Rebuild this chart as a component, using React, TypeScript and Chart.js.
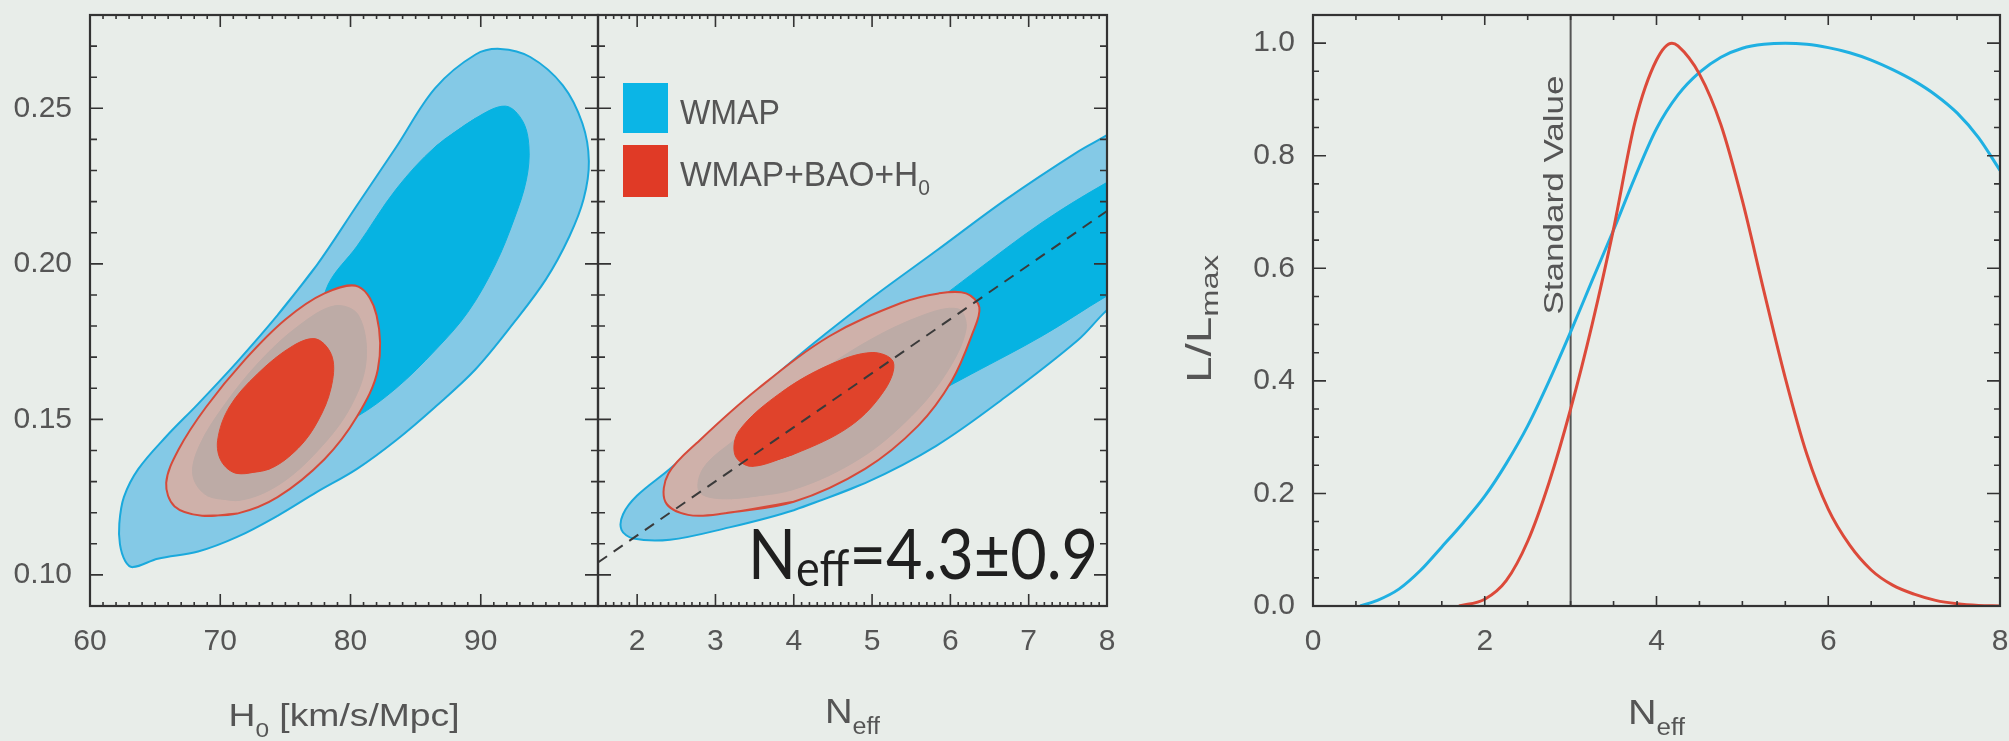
import React, { useEffect, useRef } from "react";
import { Chart, registerables } from "chart.js";
Chart.register(...registerables);

const FONT = "'Liberation Sans', Arial, Helvetica, sans-serif";
const BG = "#e8ede9";
const TXT = "#555555";
const FRAME = "#333333";
const BLUE_LIGHT = "#84c9e6";
const BLUE_DARK = "#06b3e2";
const BLUE_EDGE = "#1aa9dc";
const RED_OUTER = "#cfb1aa";
const RED_HALO = "#bdaba6";
const RED_CORE = "#e0432b";
const RED_EDGE = "#d64a3a";

// ---------------- tick labels ----------------
const h0TickValues = [60, 70, 80, 90];
const omegaTickValues = [0.1, 0.15, 0.2, 0.25];
const neffMidTickValues = [2, 3, 4, 5, 6, 7, 8];
const neffTickValues = [0, 2, 4, 6, 8];
const likeTickValues = [0, 0.2, 0.4, 0.6, 0.8, 1.0];

// ---------------- left panel contours (H0, y) — open loops ----------------
const wmapH0Outer: [number, number][] = [
  [74.4, 0.1835], [77.4, 0.1995], [80.45, 0.2185], [83.5, 0.2375], [86.5, 0.2565], [89.6, 0.2673],
  [91.5, 0.2691], [93.8, 0.2665], [96.3, 0.2574], [97.8, 0.2452], [98.3, 0.233], [97.9, 0.2209],
  [96.8, 0.2088], [95.0, 0.195], [92.6, 0.1814], [89.6, 0.1661], [86.5, 0.154], [83.5, 0.1433],
  [80.5, 0.1341], [77.4, 0.1266], [74.4, 0.119], [71.3, 0.1122], [68.3, 0.1075], [65.2, 0.1052],
  [63.3, 0.1025], [62.7, 0.1045], [62.3, 0.1098], [62.25, 0.1165], [62.6, 0.125], [63.7, 0.134],
  [65.85, 0.1445], [68.3, 0.155], [71.3, 0.1685],
];
const wmapH0Inner: [number, number][] = [
  [86.5, 0.2376], [89.6, 0.2468], [91.9, 0.2507], [93.2, 0.246], [93.7, 0.2376], [93.5, 0.227],
  [92.6, 0.2148], [91.1, 0.1996], [89.0, 0.1844], [86.5, 0.1722], [83.5, 0.16], [80.5, 0.1509],
  [78.6, 0.148], [77.0, 0.152], [76.5, 0.165], [77.5, 0.18], [78.3, 0.1935], [80.5, 0.2057],
  [83.5, 0.224],
];
const comboH0Outer: [number, number][] = [
  [71.3, 0.1197], [68.6, 0.119], [66.5, 0.122], [65.85, 0.1296], [66.8, 0.1403], [68.9, 0.1539],
  [71.9, 0.1692], [75.0, 0.1821], [78.0, 0.1905], [80.6, 0.1927], [82.0, 0.1835], [82.1, 0.1661],
  [80.5, 0.1509], [78.0, 0.1372], [74.4, 0.125],
];
const comboH0Halo: [number, number][] = [
  [71.5, 0.124], [69.0, 0.1255], [67.9, 0.132], [68.4, 0.1415], [70.3, 0.1545], [73.0, 0.1685],
  [76.0, 0.1800], [78.8, 0.1865], [80.6, 0.1835], [81.2, 0.1690], [80.0, 0.1540], [77.5, 0.1400],
  [74.5, 0.1290],
];
const comboH0Core: [number, number][] = [
  [73.8, 0.1341], [71.3, 0.1326], [70.1, 0.1364], [69.8, 0.1433], [70.7, 0.154], [72.85, 0.1646],
  [75.6, 0.1737], [77.4, 0.1758], [78.6, 0.1700], [78.5, 0.1600], [77.5, 0.1495], [76.0, 0.1408],
];

// ---------------- middle panel contours (Neff, y) ----------------
const wmapNeffOuter: [number, number][] = [
  [4.0, 0.1208], [4.91, 0.1295], [5.82, 0.1415], [6.72, 0.1575], [7.63, 0.1755], [7.97, 0.1844],
  [8.4, 0.194], [8.4, 0.248], [8.0, 0.2414], [7.63, 0.2361], [6.72, 0.2209], [5.82, 0.2042],
  [4.91, 0.1874], [4.0, 0.1692], [3.1, 0.1494], [2.42, 0.1341], [2.0, 0.1255], [1.82, 0.1195],
  [1.8, 0.1145], [1.95, 0.1117], [2.42, 0.1113], [3.1, 0.1148],
];
const wmapNeffInner: [number, number][] = [
  [8.4, 0.231], [8.0, 0.2262], [7.17, 0.2133], [6.27, 0.1966], [5.4, 0.18], [4.6, 0.166],
  [4.4, 0.155], [4.6, 0.143], [5.4, 0.153], [6.27, 0.1646], [7.17, 0.1768], [8.0, 0.1897],
  [8.4, 0.195],
];
const comboNeffOuter: [number, number][] = [
  [4.0, 0.1235], [3.1, 0.1197], [2.65, 0.1193], [2.36, 0.1235], [2.4, 0.1326], [2.8, 0.1433],
  [3.55, 0.16], [4.46, 0.1768], [5.37, 0.1874], [5.85, 0.1905], [6.2, 0.1905], [6.37, 0.186],
  [6.28, 0.1775], [6.02, 0.1625], [5.59, 0.148], [4.91, 0.1341],
];
const comboNeffHalo: [number, number][] = [
  [4.0, 0.1275], [3.2, 0.1245], [2.8, 0.1265], [2.85, 0.1345], [3.3, 0.1445], [4.0, 0.1590],
  [4.8, 0.1730], [5.6, 0.1830], [6.1, 0.1855], [6.2, 0.1790], [5.95, 0.1650], [5.5, 0.1510],
  [4.85, 0.1375],
];
const comboNeffCore: [number, number][] = [
  [4.0, 0.1388], [3.46, 0.1349], [3.25, 0.1385], [3.3, 0.1463], [3.83, 0.1585], [4.46, 0.1676],
  [5.0, 0.1715], [5.27, 0.1685], [5.17, 0.1598], [4.73, 0.148],
];
const degeneracyLine: [number, number][] = [[1.5, 0.104], [8, 0.217]];

// ---------------- right panel: 1D likelihoods ----------------
const wmapNeff = [0.55, 0.75, 1, 1.25, 1.5, 1.75, 2, 2.25, 2.5, 2.75, 3, 3.25, 3.5, 3.75, 4, 4.25, 4.5, 4.75, 5, 5.25, 5.5, 5.75, 6, 6.25, 6.5, 6.75, 7, 7.25, 7.5, 7.75, 8];
const wmapLike = [0, 0.01, 0.03, 0.063, 0.105, 0.148, 0.195, 0.253, 0.32, 0.4, 0.487, 0.578, 0.668, 0.762, 0.848, 0.908, 0.948, 0.975, 0.991, 0.998, 1.0, 0.998, 0.992, 0.983, 0.97, 0.953, 0.933, 0.908, 0.876, 0.832, 0.774];
const comboNeff = [1.7, 2, 2.25, 2.5, 2.75, 3, 3.25, 3.5, 3.75, 4, 4.18, 4.25, 4.5, 4.75, 5, 5.25, 5.5, 5.75, 6, 6.25, 6.5, 6.75, 7, 7.25, 7.5, 7.75, 8];
const comboLike = [0, 0.012, 0.045, 0.115, 0.22, 0.35, 0.5, 0.67, 0.86, 0.97, 1.0, 0.995, 0.945, 0.855, 0.72, 0.56, 0.405, 0.27, 0.172, 0.108, 0.064, 0.037, 0.021, 0.01, 0.004, 0.001, 0];
const standardNeff = 3.0;

// ---------------- helpers ----------------
const range = (a: number, b: number, s: number) => {
  const out: number[] = [];
  for (let v = a; v <= b + 1e-9; v += s) out.push(+v.toFixed(5));
  return out;
};

// close an open loop, wrapping one extra point so the spline is smooth at the seam
function loop(pts: [number, number][]) {
  const all = [...pts, pts[0], pts[1]];
  return all.map(([x, y]) => ({ x, y }));
}

function poly(pts: [number, number][], fillColor: string, edge: string, bw: number, order: number) {
  return {
    data: loop(pts),
    backgroundColor: fillColor,
    borderColor: edge,
    borderWidth: bw,
    fill: "shape",
    tension: 0.35,
    pointRadius: 0,
    order,
  };
}

type TextItem = {
  main: string; sub?: string; tail?: string;
  x: number; y: number; size: number; subSize?: number; subDrop?: number;
  width?: number; rot?: number; color?: string; family?: string; align?: "center" | "left";
};

function drawText(ctx: CanvasRenderingContext2D, t: TextItem) {
  const fam = t.family || FONT;
  const subSize = t.subSize || t.size * 0.65;
  ctx.save();
  ctx.translate(t.x, t.y);
  if (t.rot) ctx.rotate(t.rot);
  ctx.fillStyle = t.color || TXT;
  ctx.textBaseline = "alphabetic";
  ctx.textAlign = "left";
  ctx.font = `${t.size}px ${fam}`;
  const wMain = ctx.measureText(t.main).width;
  const wTail = t.tail ? ctx.measureText(t.tail).width : 0;
  ctx.font = `${subSize}px ${fam}`;
  const wSub = t.sub ? ctx.measureText(t.sub).width : 0;
  const total = wMain + wSub + wTail;
  const sx = t.width ? t.width / total : 1;
  ctx.scale(sx, 1);
  let x0 = t.align === "left" ? 0 : -total / 2;
  ctx.font = `${t.size}px ${fam}`;
  ctx.fillText(t.main, x0, 0);
  x0 += wMain;
  if (t.sub) {
    ctx.font = `${subSize}px ${fam}`;
    ctx.fillText(t.sub, x0, t.subDrop || 0);
    x0 += wSub;
  }
  if (t.tail) {
    ctx.font = `${t.size}px ${fam}`;
    ctx.fillText(t.tail, x0, 0);
  }
  ctx.restore();
}

type TickCfg = { xMajor: number[]; xMinor: number[]; yMajor: number[]; yMinor: number[]; xMajLen: number; xMinLen: number; yMajLen: number; yMinLen: number };

function framePlugin(cfg: TickCfg) {
  return {
    id: "frameTicks",
    afterDatasetsDraw(chart: any) {
      const { ctx, chartArea: a } = chart;
      const xs = chart.scales.x, ys = chart.scales.y;
      ctx.save();
      ctx.strokeStyle = FRAME;
      ctx.lineWidth = 1.6;
      ctx.beginPath();
      const xt = (vals: number[], len: number) => vals.forEach((v) => {
        const p = xs.getPixelForValue(v);
        ctx.moveTo(p, a.bottom); ctx.lineTo(p, a.bottom - len);
        ctx.moveTo(p, a.top); ctx.lineTo(p, a.top + len);
      });
      const yt = (vals: number[], len: number) => vals.forEach((v) => {
        const p = ys.getPixelForValue(v);
        ctx.moveTo(a.left, p); ctx.lineTo(a.left + len, p);
        ctx.moveTo(a.right, p); ctx.lineTo(a.right - len, p);
      });
      xt(cfg.xMinor, cfg.xMinLen); xt(cfg.xMajor, cfg.xMajLen);
      yt(cfg.yMinor, cfg.yMinLen); yt(cfg.yMajor, cfg.yMajLen);
      ctx.stroke();
      ctx.lineWidth = 2.2;
      ctx.strokeRect(a.left, a.top, a.right - a.left, a.bottom - a.top);
      ctx.restore();
    },
  };
}

function textPlugin(build: (chart: any) => TextItem[], extra?: (chart: any) => void) {
  return {
    id: "texts",
    afterDraw(chart: any) {
      const ctx = chart.ctx as CanvasRenderingContext2D;
      if (extra) extra(chart);
      build(chart).forEach((t) => drawText(ctx, t));
    },
  };
}

function baseOptions(o: {
  xMin: number; xMax: number; yMin: number; yMax: number; xTicks: number[]; yTicks: number[];
  xFmt: (v: number) => string; yFmt: (v: number) => string; yWidth: number; showY: boolean; pad: any;
}) {
  const tickFont = { family: FONT, size: 30 };
  return {
    responsive: false,
    maintainAspectRatio: false,
    animation: false,
    layout: { padding: o.pad },
    plugins: { legend: { display: false }, tooltip: { enabled: false } },
    elements: { point: { radius: 0 } },
    scales: {
      x: {
        type: "linear",
        min: o.xMin, max: o.xMax,
        grid: { display: false, drawTicks: false },
        border: { display: false },
        afterBuildTicks: (s: any) => { s.ticks = o.xTicks.map((v) => ({ value: v })); },
        afterFit: (s: any) => { s.height = 135; s.paddingLeft = 0; s.paddingRight = 0; },
        ticks: { padding: 18, font: tickFont, color: TXT, maxRotation: 0, autoSkip: false, callback: (v: any) => o.xFmt(Number(v)) },
      },
      y: {
        type: "linear",
        display: o.showY,
        min: o.yMin, max: o.yMax,
        grid: { display: false, drawTicks: false },
        border: { display: false },
        afterBuildTicks: (s: any) => { s.ticks = o.yTicks.map((v) => ({ value: v })); },
        afterFit: (s: any) => { if (o.showY) { s.width = o.yWidth; } s.paddingTop = 0; s.paddingBottom = 0; },
        ticks: { padding: 18, font: tickFont, color: TXT, autoSkip: false, callback: (v: any) => o.yFmt(Number(v)) },
      },
    },
  };
}

const LEFT_CANVAS = { left: 0, width: 640 };
const MID_CANVAS = { left: 560, width: 600 };
const RIGHT_CANVAS = { left: 1180, width: 829 };
const H = 741;

export default function App() {
  const r1 = useRef<HTMLCanvasElement>(null);
  const r2 = useRef<HTMLCanvasElement>(null);
  const r3 = useRef<HTMLCanvasElement>(null);

  useEffect(() => {
    const yMinorL = range(0.09, 0.28, 0.01);

    const c1 = new Chart(r1.current as HTMLCanvasElement, {
      type: "line",
      data: {
        datasets: [
          poly(wmapH0Outer, BLUE_LIGHT, BLUE_EDGE, 2, 6),
          poly(wmapH0Inner, BLUE_DARK, BLUE_DARK, 1, 5),
          poly(comboH0Outer, RED_OUTER, RED_EDGE, 2, 4),
          poly(comboH0Halo, RED_HALO, RED_HALO, 1, 3),
          poly(comboH0Core, RED_CORE, RED_CORE, 1, 2),
        ] as any,
      },
      options: baseOptions({
        xMin: 60, xMax: 99, yMin: 0.09, yMax: 0.28, xTicks: h0TickValues, yTicks: omegaTickValues,
        xFmt: (v) => String(v), yFmt: (v) => v.toFixed(2), yWidth: 90, showY: true,
        pad: { left: 0, right: LEFT_CANVAS.width - 598, top: 15, bottom: 0 },
      }) as any,
      plugins: [
        framePlugin({ xMajor: h0TickValues, xMinor: range(60, 99, 1), yMajor: omegaTickValues, yMinor: yMinorL, xMajLen: 12, xMinLen: 4, yMajLen: 13, yMinLen: 7 }),
        textPlugin((ch) => [
          { main: "H", sub: "0", tail: " [km/s/Mpc]", x: (ch.chartArea.left + ch.chartArea.right) / 2, y: 726, size: 32, subSize: 21, subDrop: 11, width: 231 },
        ]),
      ],
    });

    const c2 = new Chart(r2.current as HTMLCanvasElement, {
      type: "line",
      data: {
        datasets: [
          poly(wmapNeffOuter, BLUE_LIGHT, BLUE_EDGE, 2, 6),
          poly(wmapNeffInner, BLUE_DARK, BLUE_DARK, 1, 5),
          poly(comboNeffOuter, RED_OUTER, RED_EDGE, 2, 4),
          poly(comboNeffHalo, RED_HALO, RED_HALO, 1, 3),
          poly(comboNeffCore, RED_CORE, RED_CORE, 1, 2),
          {
            data: degeneracyLine.map(([x, y]) => ({ x, y })),
            borderColor: "#3a3a3a", borderWidth: 2, borderDash: [11, 8], fill: false, pointRadius: 0, order: 1,
          },
        ] as any,
      },
      options: baseOptions({
        xMin: 1.5, xMax: 8, yMin: 0.09, yMax: 0.28, xTicks: neffMidTickValues, yTicks: omegaTickValues,
        xFmt: (v) => String(v), yFmt: (v) => v.toFixed(2), yWidth: 0, showY: false,
        pad: { left: 598 - MID_CANVAS.left, right: MID_CANVAS.left + MID_CANVAS.width - 1107, top: 15, bottom: 0 },
      }) as any,
      plugins: [
        framePlugin({ xMajor: neffMidTickValues, xMinor: range(1.5, 8, 0.1), yMajor: omegaTickValues, yMinor: yMinorL, xMajLen: 12, xMinLen: 4, yMajLen: 13, yMinLen: 7 }),
        textPlugin(
          (ch) => {
            const ox = MID_CANVAS.left;
            return [
              { main: "N", sub: "eff", x: (ch.chartArea.left + ch.chartArea.right) / 2, y: 723, size: 35, subSize: 23, subDrop: 11, width: 55 },
              { main: "WMAP", x: 680 - ox, y: 124, size: 35, width: 100, align: "left" },
              { main: "WMAP+BAO+H", sub: "0", x: 680 - ox, y: 186, size: 35, subSize: 22, subDrop: 9, width: 250, align: "left" },
              { main: "N", sub: "eff", tail: "=4.3\u00b10.9", x: 748 - ox, y: 579, size: 70, subSize: 50, subDrop: 7, width: 350, align: "left", family: "Lato, 'Open Sans', sans-serif", color: "#1f1f1f" },
            ];
          },
          (ch) => {
            const ctx = ch.ctx as CanvasRenderingContext2D;
            const ox = MID_CANVAS.left;
            ctx.save();
            ctx.fillStyle = "#0bb5e6";
            ctx.fillRect(623 - ox, 83, 45, 50);
            ctx.fillStyle = "#e03a26";
            ctx.fillRect(623 - ox, 145, 45, 52);
            ctx.restore();
          }
        ),
      ],
    });

    const c3 = new Chart(r3.current as HTMLCanvasElement, {
      type: "line",
      data: {
        datasets: [
          {
            data: [{ x: standardNeff, y: 0 }, { x: standardNeff, y: 1.05 }],
            borderColor: "#555555", borderWidth: 2, fill: false, pointRadius: 0, order: 3,
          },
          {
            data: wmapNeff.map((x, i) => ({ x, y: wmapLike[i] })),
            borderColor: "#1fb0e2", borderWidth: 3, fill: false, pointRadius: 0, cubicInterpolationMode: "monotone", order: 2,
          },
          {
            data: comboNeff.map((x, i) => ({ x, y: comboLike[i] })),
            borderColor: "#dc4a3a", borderWidth: 3, fill: false, pointRadius: 0, cubicInterpolationMode: "monotone", order: 1,
          },
        ] as any,
      },
      options: baseOptions({
        xMin: 0, xMax: 8, yMin: 0, yMax: 1.05, xTicks: neffTickValues, yTicks: likeTickValues,
        xFmt: (v) => String(v), yFmt: (v) => v.toFixed(1), yWidth: 1313 - RIGHT_CANVAS.left, showY: true,
        pad: { left: 0, right: RIGHT_CANVAS.left + RIGHT_CANVAS.width - 2000, top: 15, bottom: 0 },
      }) as any,
      plugins: [
        framePlugin({ xMajor: neffTickValues, xMinor: range(0, 8, 0.5), yMajor: likeTickValues, yMinor: range(0, 1.05, 0.05), xMajLen: 10, xMinLen: 5, yMajLen: 13, yMinLen: 6 }),
        textPlugin((ch) => {
          const ox = RIGHT_CANVAS.left;
          return [
            { main: "N", sub: "eff", x: (ch.chartArea.left + ch.chartArea.right) / 2, y: 724, size: 35, subSize: 23, subDrop: 11, width: 57 },
            { main: "L/L", sub: "max", x: 1211 - ox, y: 319, size: 35, subSize: 24, subDrop: 7, width: 128, rot: -Math.PI / 2 },
            { main: "Standard Value", x: 1563 - ox, y: 195, size: 27, width: 239, rot: -Math.PI / 2 },
          ];
        }),
      ],
    });

    return () => { c1.destroy(); c2.destroy(); c3.destroy(); };
  }, []);

  const cs = (c: { left: number; width: number }) => ({ position: "absolute" as const, left: c.left, top: 0, width: c.width, height: H, display: "block" });

  return (
    <div style={{ position: "absolute", left: 0, top: 0, width: 2009, height: 741, background: BG, overflow: "hidden" }}>
      <canvas ref={r1} width={LEFT_CANVAS.width} height={H} style={cs(LEFT_CANVAS)} />
      <canvas ref={r2} width={MID_CANVAS.width} height={H} style={cs(MID_CANVAS)} />
      <canvas ref={r3} width={RIGHT_CANVAS.width} height={H} style={cs(RIGHT_CANVAS)} />
    </div>
  );
}
